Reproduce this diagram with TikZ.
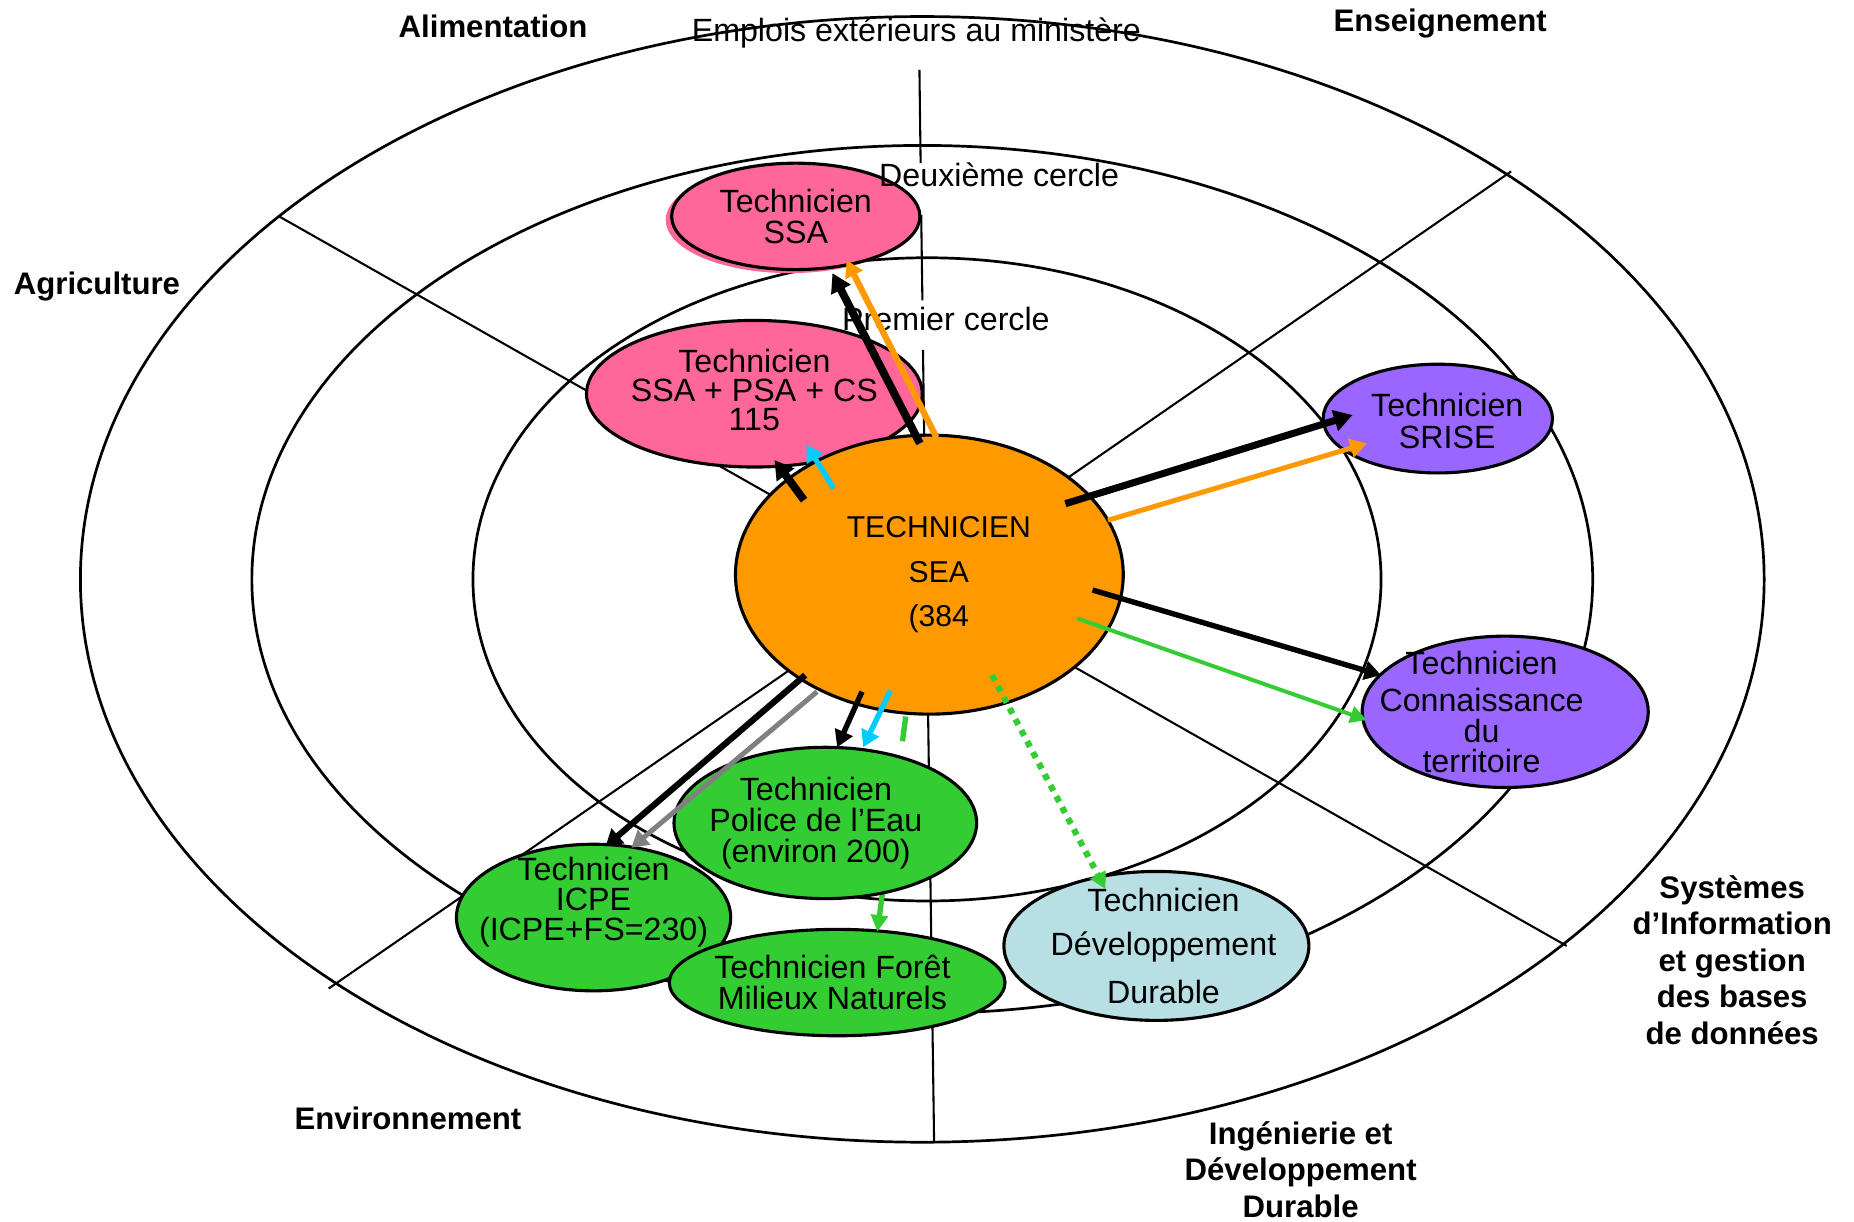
\documentclass[tikz,border=0pt]{standalone}
\usepackage{fontspec}
\setmainfont{Liberation Sans}
\usetikzlibrary{shapes.geometric,arrows.meta}

\definecolor{ssapink}{HTML}{FF6699}
\definecolor{seaorange}{HTML}{FF9900}
\definecolor{srisepurple}{HTML}{9966FF}
\definecolor{envgreen}{HTML}{33CC33}
\definecolor{ddblue}{HTML}{B8E0E4}
\definecolor{linkcyan}{HTML}{00CCFF}

\begin{document}
\begin{tikzpicture}[x=0.02cm, y=-0.02cm,
  ring/.style={line width=1.3pt},
  divider/.style={line width=1pt},
  tech/.style={ellipse, draw, line width=1.5pt, inner sep=0pt},
  techtext/.style={font=\fontsize{15.5}{15}\selectfont, align=center, inner sep=0pt},
  sectorlbl/.style={font=\fontsize{15}{17.6}\selectfont\bfseries, align=center, inner sep=0pt},
  circlelbl/.style={font=\fontsize{15.5}{16}\selectfont, inner sep=0pt},
  linkbig/.style={line width=3.8pt, -{Triangle[length=9pt, width=10pt]}},
  linkmid/.style={line width=2.6pt, -{Triangle[length=8pt, width=9pt]}},
  linkthin/.style={line width=1.9pt, -{Triangle[length=8pt, width=8pt]}},
  linkdot/.style={envgreen, line width=3pt, dash pattern=on 3pt off 3pt, -{Triangle[length=8pt, width=8pt]}},
  linkdash/.style={envgreen, line width=2.6pt, dash pattern=on 12pt off 16.5pt, -{Triangle[length=8pt, width=8pt]}}]
  \useasboundingbox (0,0) rectangle (1568,1033);
  % the three circles
  \draw[ring] (780,490) ellipse [x radius=712, y radius=476];
  \draw[ring] (780,490) ellipse [x radius=567, y radius=367];
  \draw[ring] (784,490) ellipse [x radius=384, y radius=272];
  % sector dividers
  \draw[divider] (777.6,59) -- (778.6,138);
  \draw[divider] (779.1,182) -- (780.1,254);
  \draw[divider] (780.6,296) -- (790,966);
  \draw[divider] (236,183) -- (1325,800);
  \draw[divider] (278,836) -- (1278,145);
  % first and second circle jobs
  \fill[ssapink] (668,186) ellipse [x radius=105, y radius=45];
  \node[tech, fill=ssapink, minimum width=4.2cm, minimum height=1.8cm,
    label={[techtext]center:{Technicien\\SSA}}] (ssa) at (673,183) {};
  \node[tech, fill=ssapink, minimum width=5.68cm, minimum height=2.48cm,
    label={[techtext, yshift=0.06cm, font=\fontsize{15.5}{14}\selectfont]center:{Technicien\\SSA + PSA + CS\\115}}] (psa) at (638,333) {};
  \node[tech, fill=seaorange, minimum width=6.56cm, minimum height=4.72cm,
    label={[techtext, xshift=0.16cm, font=\fontsize{14.5}{21.6}\selectfont]center:{TECHNICIEN\\SEA\\(384}}] (sea) at (786,486) {};
  \node[tech, fill=srisepurple, minimum width=3.88cm, minimum height=1.84cm,
    label={[techtext, xshift=0.16cm, yshift=-0.04cm]center:{Technicien\\SRISE}}] (srise) at (1216,354) {};
  \node[tech, fill=srisepurple, minimum width=4.84cm, minimum height=2.56cm,
    label={[techtext, xshift=-0.4cm, font=\fontsize{15.5}{14.6}\selectfont]center:{Technicien\\[3.4pt]Connaissance\\du\\territoire}}] (terr) at (1273,602) {};
  \node[tech, fill=ddblue, minimum width=5.16cm, minimum height=2.52cm,
    label={[techtext, xshift=0.12cm, font=\fontsize{15.5}{21}\selectfont]center:{Technicien\\Développement\\[2pt]Durable}}] (dd) at (978,800) {};
  \node[tech, fill=envgreen, minimum width=4.64cm, minimum height=2.48cm,
    label={[techtext, yshift=0.26cm, font=\fontsize{15.5}{14.6}\selectfont]center:{Technicien\\ICPE\\(ICPE+FS=230)}}] (icpe) at (502,776) {};
  \node[tech, fill=envgreen, minimum width=5.68cm, minimum height=1.8cm,
    label={[techtext, xshift=-0.08cm, font=\fontsize{15.5}{14.8}\selectfont]center:{Technicien Forêt\\Milieux Naturels}}] (foret) at (708,831) {};
  % dashed link runs under the Police de l'Eau node
  \draw[linkdash] ([shift={(-20,120)}]sea.center) -- ([shift={(34,-43)}]foret.center);
  \node[tech, fill=envgreen, minimum width=5.12cm, minimum height=2.56cm,
    label={[techtext, xshift=-0.16cm, font=\fontsize{15.5}{14.8}\selectfont]center:{Technicien\\Police de l’Eau\\(environ 200)}}] (eau) at (698,696) {};
  % sector labels
  \node[sectorlbl] (alim) at (417,22) {Alimentation};
  \node[sectorlbl] (ens) at (1218,20) {Enseignement};
  \node[sectorlbl] (agri) at (82,242) {Agriculture};
  \node[sectorlbl] (envi) at (345,946) {Environnement};
  \node[sectorlbl] (ingdd) at (1100,989) {Ingénierie et\\Développement\\Durable};
  \node[sectorlbl] (sidb) at (1465,812) {Systèmes\\d’Information\\et gestion\\des bases\\de données};
  % circle labels
  \node[circlelbl] (emplois) at (775,28) {Emplois extérieurs au ministère};
  \node[circlelbl] (cercle2) at (845,148) {Deuxième cercle};
  \node[circlelbl] (cercle1) at (800,270) {Premier cercle};
  % links from SEA
  \draw[linkbig] ([shift={(-8,-111)}]sea.center) -- ([shift={(31,48)}]ssa.center);
  \draw[linkmid, seaorange, line width=3pt] ([shift={(6,-116)}]sea.center) -- ([shift={(43,37)}]ssa.center);
  \draw[linkbig] ([shift={(-106,-63)}]sea.center) -- ([shift={(17,56)}]psa.center);
  \draw[linkmid, linkcyan] ([shift={(-81,-73)}]sea.center) -- ([shift={(44,43)}]psa.center);
  \draw[linkbig, line width=3.4pt] ([shift={(115,-60)}]sea.center) -- ([shift={(-72,-3)}]srise.center);
  \draw[linkmid, seaorange, line width=2.4pt] ([shift={(151,-46)}]sea.center) -- ([shift={(-60,21)}]srise.center);
  \draw[linkmid] ([shift={(138,13)}]sea.center) -- ([shift={(-105,-31)}]terr.center);
  \draw[linkthin, envgreen] ([shift={(125,37)}]sea.center) -- ([shift={(-117,7)}]terr.center);
  \draw[linkdot] ([shift={(53,85)}]sea.center) -- ([shift={(-43,-48)}]dd.center);
  \draw[linkmid] ([shift={(-57,99)}]sea.center) -- ([shift={(10,-64)}]eau.center);
  \draw[linkmid, linkcyan] ([shift={(-33,98)}]sea.center) -- ([shift={(32,-64)}]eau.center);
  \draw[linkmid, line width=3pt] ([shift={(-105,85)}]sea.center) -- ([shift={(10,-60)}]icpe.center);
  \draw[linkmid, gray, line width=2.4pt] ([shift={(-95,99)}]sea.center) -- ([shift={(32,-59)}]icpe.center);
\end{tikzpicture}
\end{document}
